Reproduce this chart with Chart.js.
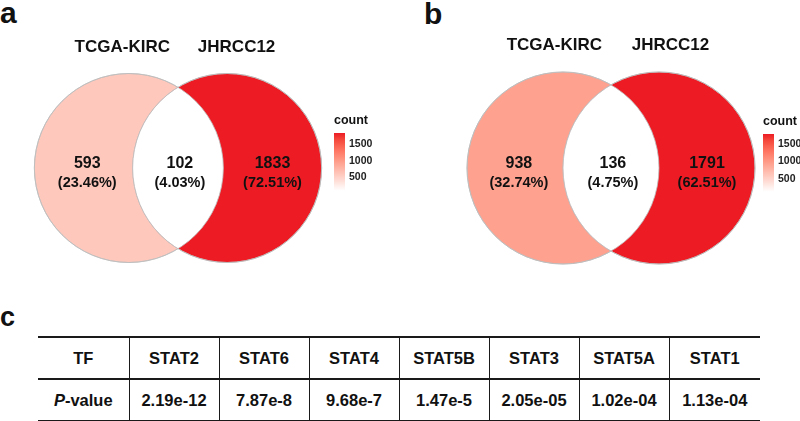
<!DOCTYPE html>
<html>
<head>
<meta charset="utf-8">
<script src="https://cdn.jsdelivr.net/npm/chart.js@4.4.1/dist/chart.umd.min.js"></script>
<style>
  html, body { margin: 0; padding: 0; background: #fff; }
  body { width: 800px; height: 421px; position: relative; overflow: hidden;
         font-family: "Liberation Sans", Arial, sans-serif; color: #111; }
  .tag { position: absolute; font-weight: bold; font-size: 30px; line-height: 30px; }
  canvas { position: absolute; }
  #tf-table { position: absolute; left: 38px; top: 336px; width: 722px;
              border-collapse: collapse; table-layout: fixed;
              font-weight: bold; font-size: 16.5px; color: #111; }
  #tf-table td { text-align: center; padding: 0; height: 40px;
                 border-left: 1.5px solid #1a1a1a; }
  #tf-table td:first-child { border-left: none; }
  #tf-table tr td { border-top: 2px solid #1a1a1a; }
  #tf-table tr:last-child td { border-bottom: 2px solid #1a1a1a; }
</style>
</head>
<body>
<div class="tag" style="left:0px; top:-2px;">a</div>
<div class="tag" style="left:424px; top:-1px;">b</div>
<div class="tag" style="left:0px; top:302px; font-size:27px;">c</div>

<canvas id="venn-a" width="300" height="280" style="left:28px; top:28px;"></canvas>
<canvas id="bar-a" width="42" height="91" style="left:334px; top:110px;"></canvas>
<canvas id="venn-b" width="300" height="280" style="left:461px; top:28px;"></canvas>
<canvas id="bar-b" width="42" height="91" style="left:763px; top:111px;"></canvas>

<table id="tf-table">
  <colgroup>
    <col style="width:91px"><col style="width:90px"><col style="width:90px"><col style="width:90px">
    <col style="width:90px"><col style="width:90px"><col style="width:90px"><col style="width:91px">
  </colgroup>
</table>

<script>
// venn counts: [only TCGA-KIRC, both, only JHRCC12]
const SET_NAMES = ["TCGA-KIRC", "JHRCC12"];
const COUNTS_A = [593, 102, 1833];
const COUNTS_B = [938, 136, 1791];
const LEGEND_TICKS = [500, 1000, 1500];

// panel c
const TF_NAMES = ["STAT2", "STAT6", "STAT4", "STAT5B", "STAT3", "STAT5A", "STAT1"];
const P_VALUES = ["2.19e-12", "7.87e-8", "9.68e-7", "1.47e-5", "2.05e-05", "1.02e-04", "1.13e-04"];

const FONT = "'Liberation Sans', Arial, sans-serif";
const HIGH = [237, 28, 36];
const LOW = [255, 255, 255];
const EDGE = "#bdbdbd";

// two-circle venn shape, in circle-radius units
const R = 1;
const NAME_X = [-0.59, 0.62];
const NAME_Y = 1.23;

Chart.defaults.font.family = FONT;

// ---- colour scale, interpolated in Lab like ggplot's gradient ----
function toLin(c) { c /= 255; return c <= 0.04045 ? c / 12.92 : Math.pow((c + 0.055) / 1.055, 2.4); }
function toSrgb(c) {
  const v = c <= 0.0031308 ? 12.92 * c : 1.055 * Math.pow(c, 1 / 2.4) - 0.055;
  return Math.round(Math.min(1, Math.max(0, v)) * 255);
}
function rgbToLab(rgb) {
  const [r, g, b] = rgb.map(toLin);
  const X = (0.4124 * r + 0.3576 * g + 0.1805 * b) / 0.95047;
  const Y = 0.2126 * r + 0.7152 * g + 0.0722 * b;
  const Z = (0.0193 * r + 0.1192 * g + 0.9505 * b) / 1.08883;
  const f = t => t > 0.008856 ? Math.cbrt(t) : 7.787 * t + 16 / 116;
  return [116 * f(Y) - 16, 500 * (f(X) - f(Y)), 200 * (f(Y) - f(Z))];
}
function labToRgb([L, a, b]) {
  const fy = (L + 16) / 116, fx = fy + a / 500, fz = fy - b / 200;
  const inv = t => t * t * t > 0.008856 ? t * t * t : (t - 16 / 116) / 7.787;
  const X = inv(fx) * 0.95047, Y = inv(fy), Z = inv(fz) * 1.08883;
  return [
    3.2406 * X - 1.5372 * Y - 0.4986 * Z,
    -0.9689 * X + 1.8758 * Y + 0.0415 * Z,
    0.0557 * X - 0.2040 * Y + 1.0570 * Z
  ].map(toSrgb);
}
const LAB_LO = rgbToLab(LOW), LAB_HI = rgbToLab(HIGH);
function fillFor(v, lo, hi) {
  const t = hi > lo ? (v - lo) / (hi - lo) : 0;
  const c = labToRgb(LAB_LO.map((x, i) => x + t * (LAB_HI[i] - x)));
  return `rgb(${c[0]},${c[1]},${c[2]})`;
}

const vennOverlay = {
  id: "vennOverlay",
  afterDatasetsDraw(chart, args, opts) {
    const [A, B] = chart.getDatasetMeta(0).data;
    const rad = opts.radius;
    const c = chart.ctx;
    const counts = opts.counts;
    const centers = opts.centers;
    const lo = Math.min(...counts), hi = Math.max(...counts);

    // shared part
    c.save();
    c.beginPath(); c.arc(A.x, A.y, rad, 0, Math.PI * 2); c.clip();
    c.beginPath(); c.arc(B.x, B.y, rad, 0, Math.PI * 2);
    c.fillStyle = fillFor(counts[1], lo, hi);
    c.fill();
    c.restore();

    c.save();
    c.strokeStyle = EDGE; c.lineWidth = 0.8;
    [A, B].forEach(p => { c.beginPath(); c.arc(p.x, p.y, rad, 0, Math.PI * 2); c.stroke(); });

    const xs = chart.scales.x, ys = chart.scales.y;
    c.fillStyle = "#111";
    c.textAlign = "center";
    c.textBaseline = "alphabetic";

    c.font = `bold 17px ${FONT}`;
    SET_NAMES.forEach((n, i) => c.fillText(n, xs.getPixelForValue(NAME_X[i]), ys.getPixelForValue(NAME_Y)));

    const total = counts.reduce((s, v) => s + v, 0);
    const regionX = [
      ((centers[0] - R) + (centers[1] - R)) / 2 + 0.04,
      (centers[0] + centers[1]) / 2 + 0.02,
      ((centers[0] + R) + (centers[1] + R)) / 2
    ];
    const cy = ys.getPixelForValue(0);
    counts.forEach((v, i) => {
      const x = xs.getPixelForValue(regionX[i]);
      c.font = `bold 16px ${FONT}`;
      c.fillText(String(v), x, cy);
      c.font = `bold 14.5px ${FONT}`;
      c.fillText(`(${(v / total * 100).toFixed(2)}%)`, x, cy + 19);
    });
    c.restore();
  }
};

function makeVenn(id, counts, pxPerUnit, half) {
  const canvas = document.getElementById(id);
  const hx = canvas.width / 2 / pxPerUnit, hy = canvas.height / 2 / pxPerUnit;
  const lo = Math.min(...counts), hi = Math.max(...counts);
  const centers = [-half, half];
  return new Chart(canvas, {
    type: "scatter",
    data: {
      datasets: [{
        data: centers.map(x => ({ x: x, y: 0 })),
        backgroundColor: [fillFor(counts[0], lo, hi), fillFor(counts[2], lo, hi)],
        borderColor: EDGE,
        borderWidth: 0.8,
        pointRadius: R * pxPerUnit,
        clip: false
      }]
    },
    options: {
      responsive: false, animation: false, events: [],
      layout: { padding: 0, autoPadding: false },
      scales: {
        x: { type: "linear", min: -hx, max: hx, display: false },
        y: { type: "linear", min: -hy, max: hy, display: false }
      },
      plugins: {
        legend: { display: false },
        tooltip: { enabled: false },
        vennOverlay: { counts: counts, radius: R * pxPerUnit, centers: centers }
      }
    },
    plugins: [vennOverlay]
  });
}

function makeColorbar(id, counts) {
  const lo = Math.min(...counts), hi = Math.max(...counts);
  return new Chart(document.getElementById(id), {
    type: "bar",
    data: {
      labels: ["count"],
      datasets: [{
        data: [[lo, hi]],
        barPercentage: 1, categoryPercentage: 1, borderWidth: 0,
        backgroundColor: ctx => {
          const area = ctx.chart.chartArea;
          if (!area) return "#fff";
          const g = ctx.chart.ctx.createLinearGradient(0, area.bottom, 0, area.top);
          for (let k = 0; k <= 10; k++) g.addColorStop(k / 10, fillFor(lo + (hi - lo) * k / 10, lo, hi));
          return g;
        }
      }]
    },
    options: {
      responsive: false, animation: false, events: [],
      layout: { padding: { top: 0, right: 0, bottom: 6, left: 0 } },
      scales: {
        x: { display: false },
        y: {
          position: "right", min: lo, max: hi,
          grid: { display: false, drawTicks: false },
          border: { display: false },
          ticks: { color: "#222", padding: 4, font: { size: 10.5, weight: "bold" }, callback: v => String(v) },
          afterBuildTicks: s => { s.ticks = LEGEND_TICKS.map(v => ({ value: v })); },
          afterFit: s => { s.width = 31; }
        }
      },
      plugins: {
        legend: { display: false },
        tooltip: { enabled: false },
        title: {
          display: true, text: "count", align: "start", color: "#111",
          font: { size: 12.5, weight: "bold" }, padding: { top: 3, bottom: 5 }
        }
      }
    }
  });
}

makeVenn("venn-a", COUNTS_A, 94.5, 0.52);
makeVenn("venn-b", COUNTS_B, 96, 0.5);
makeColorbar("bar-a", COUNTS_A);
makeColorbar("bar-b", COUNTS_B);

// panel c table
const tbl = document.getElementById("tf-table");
const r1 = tbl.insertRow();
r1.insertCell().textContent = "TF";
TF_NAMES.forEach(n => { r1.insertCell().textContent = n; });
const r2 = tbl.insertRow();
r2.insertCell().innerHTML = "<i>P</i>-value";
P_VALUES.forEach(p => { r2.insertCell().textContent = p; });
</script>
</body>
</html>
